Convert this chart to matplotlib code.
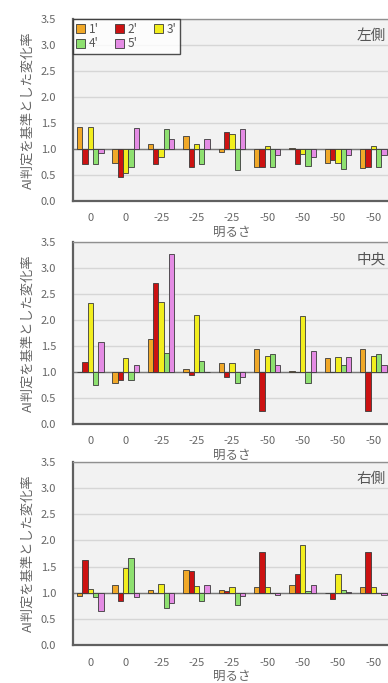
import matplotlib
matplotlib.use("Agg")
import matplotlib.pyplot as plt
import numpy as np

plt.rcParams['font.family'] = ['Noto Sans CJK JP', 'DejaVu Sans']

categories = ['0', '0', '-25', '-25', '-25', '-50', '-50', '-50', '-50']
series_names = ["1'", "2'", "3'", "4'", "5'"]
colors = ['#F0A828', '#CC1212', '#F2EE1E', '#8EE070', '#E48CE4']
panel_titles = ['左側', '中央', '右側']

left_vals = [
    [1.42, 0.74, 1.10, 1.25, 0.94, 0.65, 1.02, 0.74, 0.64],   # 1'
    [0.71, 0.47, 0.71, 0.66, 1.33, 0.66, 0.71, 0.78, 0.66],   # 2'
    [1.42, 0.53, 0.84, 1.10, 1.28, 1.06, 0.90, 0.74, 1.06],   # 3'
    [0.71, 0.66, 1.39, 0.71, 0.60, 0.66, 0.67, 0.61, 0.66],   # 4'
    [0.92, 1.40, 1.19, 1.20, 1.39, 0.88, 0.85, 0.89, 0.88],   # 5'
]
center_vals = [
    [1.00, 0.78, 1.63, 1.05, 1.17, 1.44, 1.01, 1.26, 1.44],
    [1.20, 0.85, 2.71, 0.94, 0.90, 0.25, 1.00, 1.00, 0.25],
    [2.32, 1.27, 2.35, 2.10, 1.17, 1.30, 2.08, 1.29, 1.30],
    [0.75, 0.85, 1.36, 1.21, 0.79, 1.34, 0.79, 1.13, 1.34],
    [1.58, 1.14, 3.27, 1.00, 0.90, 1.14, 1.41, 1.29, 1.14],
]
right_vals = [
    [0.94, 1.15, 1.06, 1.44, 1.06, 1.10, 1.15, 1.00, 1.10],
    [1.62, 0.85, 1.00, 1.42, 1.04, 1.78, 1.36, 0.88, 1.78],
    [1.07, 1.48, 1.17, 1.13, 1.10, 1.10, 1.91, 1.36, 1.10],
    [0.92, 1.66, 0.70, 0.85, 0.76, 1.00, 1.03, 1.05, 1.00],
    [0.65, 0.92, 0.80, 1.14, 0.93, 0.95, 1.15, 1.01, 0.95],
]
panels = [left_vals, center_vals, right_vals]

W, H = 388, 683
fig = plt.figure(figsize=(W / 100, H / 100), dpi=100)

ax_left = 72.7
ax_right = 391.0
tops = [19, 242, 462]
bottoms = [201, 424, 645]

x = np.arange(len(categories))
bw = 0.15

for p, (vals, title) in enumerate(zip(panels, panel_titles)):
    b, t = bottoms[p], tops[p]
    ax = fig.add_axes([ax_left / W, 1 - b / H, (ax_right - ax_left) / W, (b - t) / H])
    ax.set_facecolor('#F2F2F2')
    ax.set_xlim(-0.5, len(categories) - 0.5)
    ax.set_ylim(0, 3.5)
    ax.set_yticks(np.arange(0, 3.51, 0.5))
    ax.set_yticklabels([f'{v:.1f}' for v in np.arange(0, 3.51, 0.5)])
    ax.set_xticks(x)
    ax.set_xticklabels(categories)
    ax.tick_params(length=0, labelsize=8, colors='#666666')
    ax.tick_params(axis='y', pad=12)
    ax.tick_params(axis='x', pad=9)
    ax.grid(axis='y', color='#D6D6D6', linewidth=1.0)
    ax.set_axisbelow(True)
    for s in ['left', 'bottom']:
        ax.spines[s].set_color('#606060')
        ax.spines[s].set_linewidth(1.6)
    for s in ['top', 'right']:
        ax.spines[s].set_color('#909090')
        ax.spines[s].set_linewidth(1.0)
    ax.axhline(1.0, color='#777777', linewidth=1.0, zorder=1.5)
    handles = []
    for j, (name, col) in enumerate(zip(series_names, colors)):
        v = np.array(vals[j])
        h = ax.bar(x + (j - 2) * bw, v - 1.0, bottom=1.0, width=bw, color=col,
                   edgecolor='#3A3A3A', linewidth=0.6, label=name, zorder=2)
        handles.append(h)
    ax.set_ylabel('AI判定を基準とした変化率', fontsize=9.5, color='#666666')
    ax.set_xlabel('明るさ', fontsize=9, color='#666666', labelpad=2)
    ax.yaxis.set_label_coords(-0.118, 0.5)
    ax.text(0.893, 0.905, title, transform=ax.transAxes, fontsize=10.5,
            color='#555555', ha='left', va='center')
    if p == 0:
        order = [0, 3, 1, 4, 2]
        leg = ax.legend([handles[k] for k in order], [series_names[k] for k in order],
                        loc='upper left', ncol=3, fontsize=8.5, frameon=True,
                        fancybox=False, handlelength=0.75, handleheight=0.75,
                        handletextpad=0.3, columnspacing=1.4, borderpad=0.3,
                        labelspacing=0.15, borderaxespad=0.0)
        leg.get_frame().set_edgecolor('#222222')
        leg.get_frame().set_linewidth(1.0)
        leg.get_frame().set_facecolor('white')
        for txt in leg.get_texts():
            txt.set_color('#555555')

fig.savefig('out.png', dpi=100)
